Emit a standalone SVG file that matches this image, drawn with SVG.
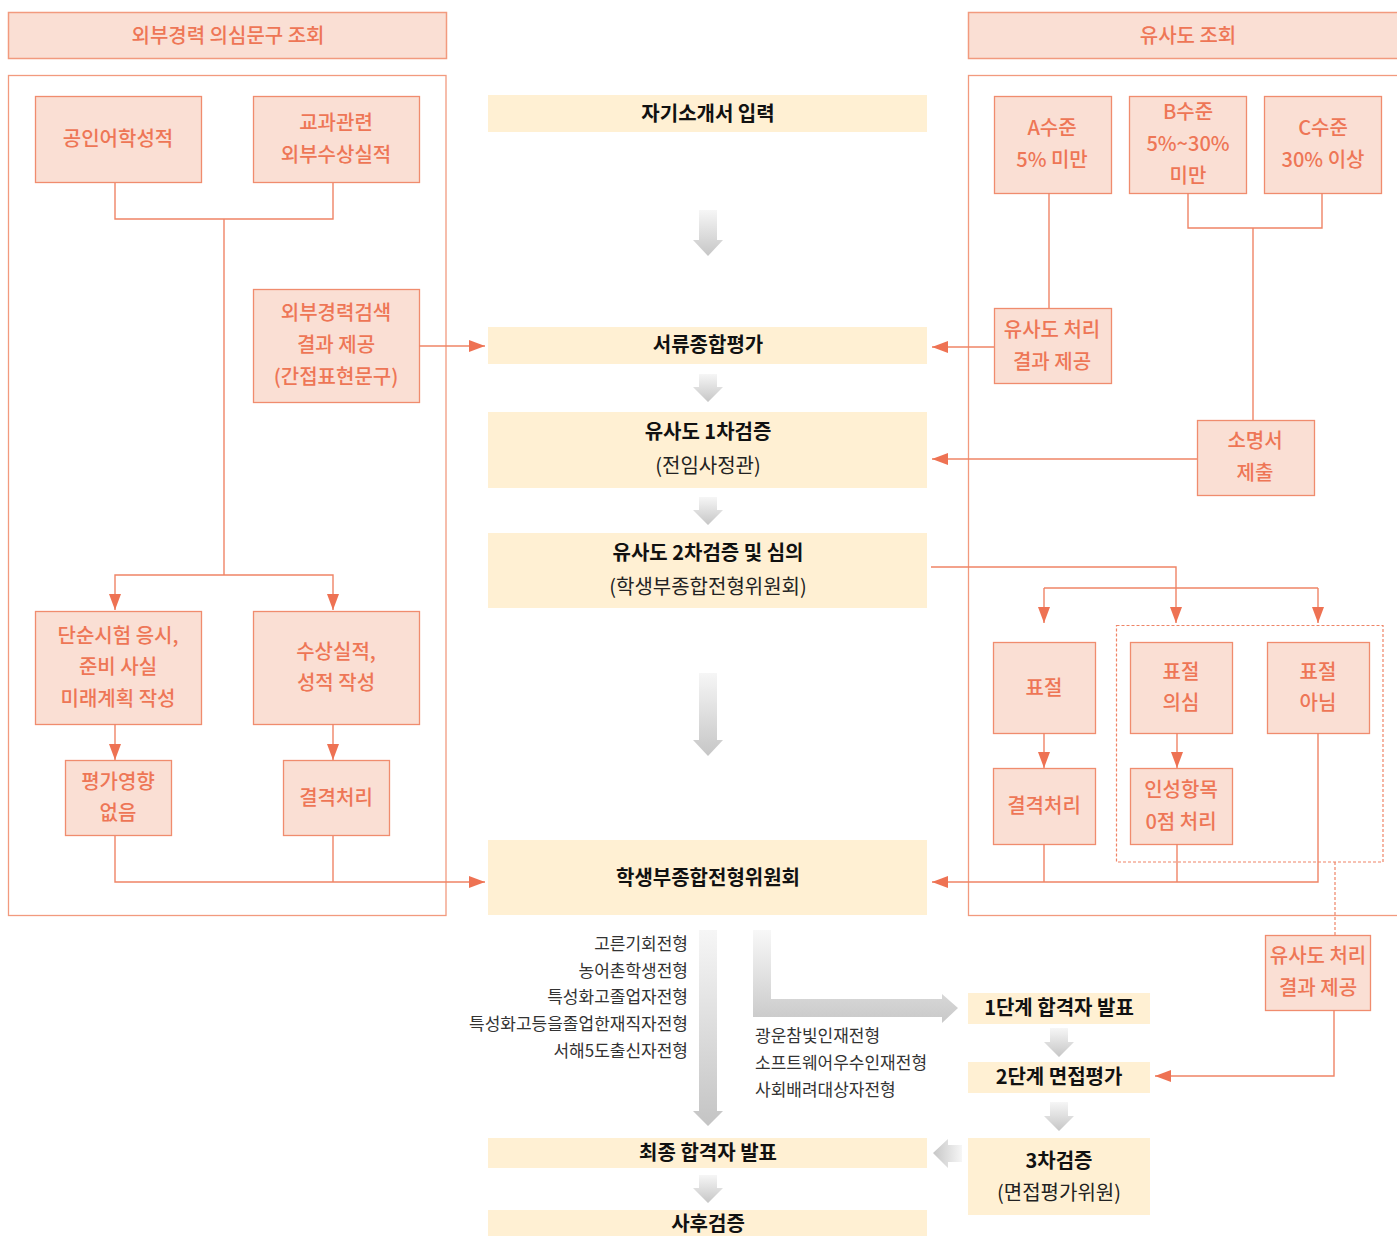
<svg xmlns="http://www.w3.org/2000/svg" width="1397" height="1236" viewBox="0 0 1397 1236">
<defs>
<style>
.hd{fill:#FADFD4;stroke:#F29A7E;stroke-width:1.5}
.bx{fill:#FADFD4;stroke:#F08C6E;stroke-width:1.3}
.ct{fill:#FFF0D3}
.frame{fill:none;stroke:#F29A7E;stroke-width:1.3}
.ln{fill:none;stroke:#EF8466;stroke-width:1.4}
.la{fill:none;stroke:#EF8466;stroke-width:1.4;marker-end:url(#ah)}
.dash{fill:none;stroke:#EF8466;stroke-width:1.2;stroke-dasharray:3 2}
.st{font-family:"Noto Sans CJK KR","Noto Sans",sans-serif;font-size:20px;font-weight:500;fill:#EE7656;text-anchor:middle}
.sh{font-family:"Noto Sans CJK KR","Noto Sans",sans-serif;font-size:20px;font-weight:500;fill:#EE7656;text-anchor:middle}
.cb{font-family:"Noto Sans CJK KR","Noto Sans",sans-serif;font-size:20px;font-weight:bold;fill:#111;text-anchor:middle}
.cn{font-family:"Noto Sans CJK KR","Noto Sans",sans-serif;font-size:20px;fill:#222;text-anchor:middle}
.lt{font-family:"Noto Sans CJK KR","Noto Sans",sans-serif;font-size:17px;fill:#333}
</style>
<marker id="ah" markerUnits="userSpaceOnUse" markerWidth="16" markerHeight="12" refX="16" refY="6" orient="auto">
<path d="M0,0 L16,6 L0,12 z" fill="#EE7253"/>
</marker>
<linearGradient id="gv" x1="0" y1="0" x2="0" y2="1">
<stop offset="0" stop-color="#F6F6F6"/>
<stop offset="1" stop-color="#C6C6C6"/>
</linearGradient>
<linearGradient id="gh" x1="1" y1="0" x2="0" y2="0">
<stop offset="0" stop-color="#F6F6F6"/>
<stop offset="1" stop-color="#C6C6C6"/>
</linearGradient>
<linearGradient id="gL" gradientUnits="userSpaceOnUse" x1="0" y1="930" x2="0" y2="1020">
<stop offset="0" stop-color="#F8F8F8"/>
<stop offset="1" stop-color="#CACACA"/>
</linearGradient>
<linearGradient id="gLong" gradientUnits="userSpaceOnUse" x1="0" y1="930" x2="0" y2="1126">
<stop offset="0" stop-color="#F6F6F6"/>
<stop offset="1" stop-color="#C4C4C4"/>
</linearGradient>
</defs>
<rect width="1397" height="1236" fill="#FFFFFF"/>

<!-- left section -->
<g id="left-header">
<rect class="hd" x="8.5" y="12.5" width="438" height="46"/>
<text class="sh" x="228" y="43">외부경력 의심문구 조회</text>
</g>
<rect class="frame" x="8.5" y="75.5" width="437.5" height="840"/>

<g id="n-lang"><rect class="bx" x="35.5" y="96.5" width="166" height="86"/><text class="st" x="118" y="146">공인어학성적</text></g>
<g id="n-award"><rect class="bx" x="253.5" y="96.5" width="166" height="86"/><text class="st" x="336" y="130">교과관련</text><text class="st" x="336" y="162">외부수상실적</text></g>
<g id="n-search"><rect class="bx" x="253.5" y="289.5" width="166" height="113"/><text class="st" x="336" y="320">외부경력검색</text><text class="st" x="336" y="352">결과 제공</text><text class="st" x="336" y="384">(간접표현문구)</text></g>
<g id="n-simple"><rect class="bx" x="35.5" y="611.5" width="166" height="113"/><text class="st" x="118" y="643">단순시험 응시,</text><text class="st" x="118" y="674">준비 사실</text><text class="st" x="118" y="706">미래계획 작성</text></g>
<g id="n-record"><rect class="bx" x="253.5" y="611.5" width="166" height="113"/><text class="st" x="336" y="659">수상실적,</text><text class="st" x="336" y="690">성적 작성</text></g>
<g id="n-noeffect"><rect class="bx" x="65.5" y="760.5" width="106" height="75"/><text class="st" x="118" y="789">평가영향</text><text class="st" x="118" y="820">없음</text></g>
<g id="n-disq1"><rect class="bx" x="283.5" y="760.5" width="106" height="75"/><text class="st" x="336" y="805">결격처리</text></g>

<!-- right section -->
<g id="right-header">
<rect class="hd" x="968.5" y="12.5" width="440" height="46"/>
<text class="sh" x="1188" y="43">유사도 조회</text>
</g>
<rect class="frame" x="968.5" y="75.5" width="440" height="840"/>
<rect x="1116.5" y="625.5" width="266.5" height="236.5" fill="#FFF0D3" class="dash"/>

<g id="n-A"><rect class="bx" x="994.5" y="96.5" width="117" height="97"/><text class="st" x="1052" y="135">A수준</text><text class="st" x="1052" y="167">5% 미만</text></g>
<g id="n-B"><rect class="bx" x="1129.5" y="96.5" width="117" height="97"/><text class="st" x="1188" y="119">B수준</text><text class="st" x="1188" y="151">5%~30%</text><text class="st" x="1188" y="183">미만</text></g>
<g id="n-C"><rect class="bx" x="1264.5" y="96.5" width="117" height="97"/><text class="st" x="1323" y="135">C수준</text><text class="st" x="1323" y="167">30% 이상</text></g>
<g id="n-simres"><rect class="bx" x="994.5" y="308.5" width="117" height="75"/><text class="st" x="1052" y="337">유사도 처리</text><text class="st" x="1052" y="369">결과 제공</text></g>
<g id="n-explain"><rect class="bx" x="1197.5" y="420.5" width="117" height="75"/><text class="st" x="1255" y="448">소명서</text><text class="st" x="1255" y="480">제출</text></g>
<g id="n-plag"><rect class="bx" x="993.5" y="642.5" width="102" height="91"/><text class="st" x="1044" y="695">표절</text></g>
<g id="n-susp"><rect class="bx" x="1130.5" y="642.5" width="102" height="91"/><text class="st" x="1181" y="679">표절</text><text class="st" x="1181" y="710">의심</text></g>
<g id="n-notplag"><rect class="bx" x="1267.5" y="642.5" width="102" height="91"/><text class="st" x="1318" y="679">표절</text><text class="st" x="1318" y="710">아님</text></g>
<g id="n-disq2"><rect class="bx" x="993.5" y="768.5" width="102" height="76"/><text class="st" x="1044" y="813">결격처리</text></g>
<g id="n-zero"><rect class="bx" x="1130.5" y="768.5" width="102" height="76"/><text class="st" x="1181" y="797">인성항목</text><text class="st" x="1181" y="829">0점 처리</text></g>
<g id="n-simres2"><rect class="bx" x="1265.5" y="935.5" width="105" height="75"/><text class="st" x="1318" y="963">유사도 처리</text><text class="st" x="1318" y="995">결과 제공</text></g>

<!-- center column -->
<g id="c-intro"><rect class="ct" x="488" y="95" width="439" height="37"/><text class="cb" x="708" y="121">자기소개서 입력</text></g>
<g id="c-doc"><rect class="ct" x="488" y="327" width="439" height="37"/><text class="cb" x="708" y="352">서류종합평가</text></g>
<g id="c-v1"><rect class="ct" x="488" y="412" width="439" height="76"/><text class="cb" x="708" y="439">유사도 1차검증</text><text class="cn" x="708" y="473">(전임사정관)</text></g>
<g id="c-v2"><rect class="ct" x="488" y="533" width="439" height="75"/><text class="cb" x="708" y="560">유사도 2차검증 및 심의</text><text class="cn" x="708" y="594">(학생부종합전형위원회)</text></g>
<g id="c-comm"><rect class="ct" x="488" y="840" width="439" height="75"/><text class="cb" x="708" y="885">학생부종합전형위원회</text></g>
<g id="c-final"><rect class="ct" x="488" y="1138" width="439" height="30"/><text class="cb" x="708" y="1160">최종 합격자 발표</text></g>
<g id="c-post"><rect class="ct" x="488" y="1210" width="439" height="26"/><text class="cb" x="708" y="1231">사후검증</text></g>
<g id="c-stage1"><rect class="ct" x="968" y="993" width="182" height="31"/><text class="cb" x="1059" y="1015">1단계 합격자 발표</text></g>
<g id="c-stage2"><rect class="ct" x="968" y="1062" width="182" height="31"/><text class="cb" x="1059" y="1084">2단계 면접평가</text></g>
<g id="c-v3"><rect class="ct" x="968" y="1138" width="182" height="77"/><text class="cb" x="1059" y="1168">3차검증</text><text class="cn" x="1059" y="1200">(면접평가위원)</text></g>

<g id="labels">
<text class="lt" x="688" y="950" text-anchor="end">고른기회전형</text>
<text class="lt" x="688" y="977" text-anchor="end">농어촌학생전형</text>
<text class="lt" x="688" y="1003" text-anchor="end">특성화고졸업자전형</text>
<text class="lt" x="688" y="1030" text-anchor="end">특성화고등을졸업한재직자전형</text>
<text class="lt" x="688" y="1057" text-anchor="end">서해5도출신자전형</text>
<text class="lt" x="755" y="1042">광운참빛인재전형</text>
<text class="lt" x="755" y="1069">소프트웨어우수인재전형</text>
<text class="lt" x="755" y="1096">사회배려대상자전형</text>
</g>

<g id="connectors">
<!-- gray flow arrows -->
<path d="M699,210 H717 V240 H723 L708,256 L693,240 H699 Z" fill="url(#gv)"/>
<path d="M699,374 H717 V387 H723 L708,402 L693,387 H699 Z" fill="url(#gv)"/>
<path d="M699,497 H717 V510 H723 L708,525 L693,510 H699 Z" fill="url(#gv)"/>
<path d="M699,673 H717 V740 H723 L708,756 L693,740 H699 Z" fill="url(#gv)"/>
<path d="M699,930 H717 V1111 H723 L708,1126 L693,1111 H699 Z" fill="url(#gLong)"/>
<path d="M753,930 H771 V999 H942 V994 L958,1008 L942,1023 V1017 H753 Z" fill="url(#gL)"/>
<path d="M699,1175 H717 V1188 H723 L708,1203 L693,1188 H699 Z" fill="url(#gv)"/>
<path d="M1050,1028 H1068 V1042 H1074 L1059,1057 L1044,1042 H1050 Z" fill="url(#gv)"/>
<path d="M1050,1102 H1068 V1116 H1074 L1059,1131 L1044,1116 H1050 Z" fill="url(#gv)"/>
<path d="M962,1145 V1162 H948 V1168 L933,1153 L948,1139 V1145 Z" fill="url(#gh)"/>

<!-- left section lines -->
<path class="ln" d="M115,183 V219 H333 V183"/>
<path class="ln" d="M224,219 V575"/>
<path class="la" d="M224,575 H115 V610"/>
<path class="la" d="M224,575 H333 V610"/>
<path class="la" d="M419,346 H485"/>
<path class="la" d="M115,724 V760"/>
<path class="la" d="M333,724 V760"/>
<path class="ln" d="M333,836 V882"/>
<path class="la" d="M115,836 V882 H485"/>

<!-- right section lines -->
<path class="ln" d="M1049,193 V308"/>
<path class="la" d="M994,347 H932"/>
<path class="ln" d="M1188,193 V228 H1322 V193"/>
<path class="ln" d="M1253,228 V420"/>
<path class="la" d="M1197,459 H932"/>
<path class="la" d="M931,567 H1176 V623"/>
<path class="ln" d="M1044,588 H1318"/>
<path class="la" d="M1044,588 V623"/>
<path class="la" d="M1318,588 V623"/>
<path class="la" d="M1044,733 V768"/>
<path class="la" d="M1177,733 V768"/>
<path class="ln" d="M1044,844 V882"/>
<path class="ln" d="M1177,844 V882"/>
<path class="la" d="M1318,733 V882 H932"/>
<path class="dash" d="M1335,862 V935"/>
<path class="la" d="M1334,1010 V1076 H1155"/>
</g>
</svg>
